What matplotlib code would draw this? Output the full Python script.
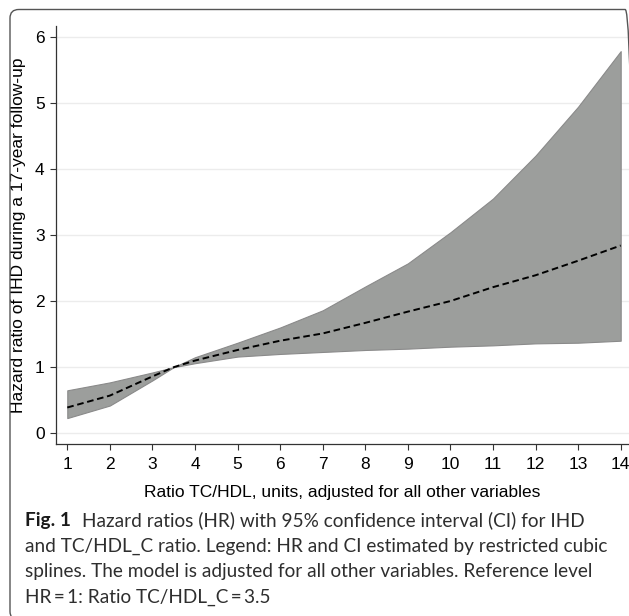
import matplotlib
matplotlib.use("Agg")
import matplotlib.pyplot as plt
from matplotlib.patches import FancyBboxPatch

# ---- data ----
ratio = [1, 2, 3, 3.5, 4, 5, 6, 7, 8, 9, 10, 11, 12, 13, 14]
hr = [0.39, 0.57, 0.86, 1.0, 1.10, 1.26, 1.40, 1.51, 1.67, 1.84, 2.00, 2.21, 2.39, 2.61, 2.84]
ci_upper = [0.65, 0.77, 0.92, 1.0, 1.15, 1.37, 1.60, 1.86, 2.22, 2.57, 3.04, 3.55, 4.20, 4.94, 5.78]
ci_lower = [0.23, 0.42, 0.80, 1.0, 1.06, 1.16, 1.20, 1.23, 1.26, 1.28, 1.31, 1.33, 1.36, 1.37, 1.40]
xticks = list(range(1, 15))
yticks = [0, 1, 2, 3, 4, 5, 6]
xlabel = "Ratio TC/HDL, units, adjusted for all other variables"
ylabel = "Hazard ratio of IHD during a 17-year follow-up"
cap_bold = "Fig. 1"
cap_lines = [
    "Hazard ratios (HR) with 95% confidence interval (CI) for IHD",
    "and TC/HDL_C ratio. Legend: HR and CI estimated by restricted cubic",
    "splines. The model is adjusted for all other variables. Reference level",
    "HR\u2009=\u20091: Ratio TC/HDL_C\u2009=\u20093.5",
]

W, H = 629, 616
cap_font = "Lato"

plt.rcParams["font.family"] = ["Liberation Sans", "DejaVu Sans"]

fig = plt.figure(figsize=(W / 100, H / 100), dpi=100)

# rounded frame (right and bottom sides fall just outside the canvas)
frame = FancyBboxPatch((10 / W, -4 / H), (634 - 10) / W, (616 - 9.5 + 4) / H,
                       boxstyle="round,pad=0,rounding_size=0.014",
                       transform=fig.transFigure, facecolor="none",
                       edgecolor="#555555", linewidth=1.0, zorder=0)
fig.patches.append(frame)

ax = fig.add_axes([56 / W, (H - 444) / H, (W - 56) / W, (444 - 26) / H])
ax.set_xlim(0.735, 14.195)
ax.set_ylim(-0.162, 6.16)

for y in yticks:
    ax.axhline(y, color="#ececec", linewidth=1.0, zorder=0)

ax.fill_between(ratio, ci_lower, ci_upper, facecolor="#9c9e9c",
                edgecolor="#8a8a8a", linewidth=0.8, zorder=2)
ax.plot(ratio, hr, color="black", linewidth=1.4, linestyle=(0, (3.4, 1.9)), zorder=3)

for s in ["top", "right"]:
    ax.spines[s].set_visible(False)
for s in ["left", "bottom"]:
    ax.spines[s].set_color("#333333")
    ax.spines[s].set_linewidth(0.9)

fs_ax = 12.5
ax.set_xticks(xticks)
ax.set_yticks(yticks)
ax.set_xticklabels([str(v) for v in xticks])
ax.set_yticklabels([str(v) for v in yticks])
ax.tick_params(axis="both", direction="out", length=4.6, width=0.8, color="#333333",
               labelsize=fs_ax, labelcolor="black")
ax.tick_params(axis="x", pad=4.5)
ax.tick_params(axis="y", pad=3.5)

ax.set_xlabel(xlabel, fontsize=fs_ax, va="baseline")
ax.xaxis.set_label_coords(0.5, -(497.5 - 444) / 418)
ax.set_ylabel(ylabel, fontsize=fs_ax, va="center")
ax.yaxis.set_label_coords((19 - 56) / 573, 0.5)

# caption
renderer = fig.canvas.get_renderer()
fam = [cap_font, "DejaVu Sans"]
fs = 13.0
probe = fig.text(0, 0, cap_lines[1], fontsize=fs, family=fam)
wpx = probe.get_window_extent(renderer).width
probe.remove()
fs = fs * (583 / wpx)

x0 = 25 / W
baselines = [526, 551.7, 577, 603]
tb = fig.text(x0, 1 - baselines[0] / H, cap_bold, fontsize=fs, fontweight="bold",
              family=fam, color="#1a1a1a", va="baseline")
bw = tb.get_window_extent(renderer)
fig.text((bw.x1 + 10.5) / W, 1 - baselines[0] / H, cap_lines[0], fontsize=fs,
         family=fam, color="#2e2e2e", va="baseline")
for line, b in zip(cap_lines[1:], baselines[1:]):
    fig.text(x0, 1 - b / H, line, fontsize=fs, family=fam,
             color="#2e2e2e", va="baseline")

fig.savefig("out.png", dpi=100)
